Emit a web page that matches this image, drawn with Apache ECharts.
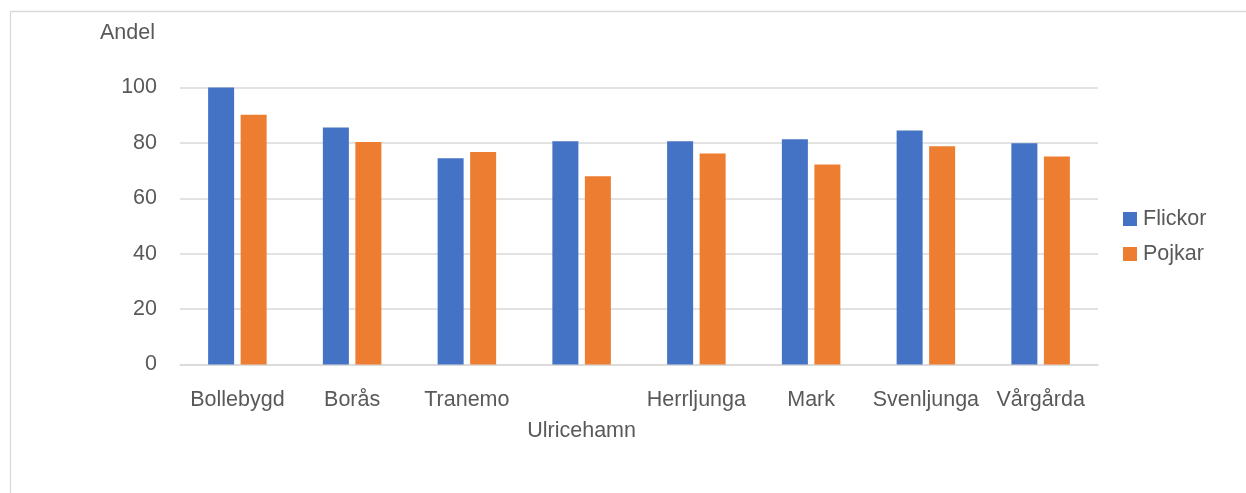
<!DOCTYPE html>
<html>
<head>
<meta charset="utf-8">
<script src="https://cdn.jsdelivr.net/npm/echarts@6/dist/echarts.min.js"></script>
<style>html,body{margin:0;padding:0;background:#fff;}#c{width:1246px;height:493px;}</style>
</head>
<body>
<div id="c"></div>
<script>
const categories = ['Bollebygd', 'Borås', 'Tranemo', 'Ulricehamn', 'Herrljunga', 'Mark', 'Svenljunga', 'Vårgårda'];
const flickor = [100, 85.6, 74.5, 80.6, 80.6, 81.3, 84.5, 79.9];
const pojkar = [90.2, 80.3, 76.7, 68.0, 76.2, 72.2, 78.8, 75.1];
const yTicks = { min: 0, max: 100, interval: 20 };
const seriesNames = ['Flickor', 'Pojkar'];
const yAxisTitle = 'Andel';

const textColor = '#595959';
const font = 'Liberation Sans, Arial, sans-serif';
const chart = echarts.init(document.getElementById('c'), null, { renderer: 'canvas' });
chart.setOption({
  animation: false,
  backgroundColor: '#ffffff',
  graphic: [{
    type: 'rect', shape: { x: 10.5, y: 11.5, width: 1260, height: 520 },
    style: { fill: 'none', stroke: '#d9d9d9', lineWidth: 1.3 }, silent: true, z: -1
  }],
  title: {
    text: yAxisTitle, left: 100, top: 22, padding: 0,
    textStyle: { fontFamily: font, fontSize: 21.5, fontWeight: 'normal', color: textColor }
  },
  legend: {
    orient: 'vertical', left: 1123, top: 208, padding: 0,
    itemWidth: 14, itemHeight: 14, itemGap: 13,
    icon: 'rect',
    textStyle: { fontFamily: font, fontSize: 21.5, color: textColor, lineHeight: 21, padding: [0, 0, 0, 1] },
    data: seriesNames
  },
  grid: { left: 180, right: 148, top: 87.5, bottom: 128.5, containLabel: false },
  xAxis: {
    type: 'category', data: categories,
    axisLine: { show: true, lineStyle: { color: '#d9d9d9', width: 1.5 } },
    axisTick: { show: false },
    axisLabel: {
      interval: 0, margin: 20, fontFamily: font, fontSize: 21.5, color: textColor, lineHeight: 31,
      formatter: (v, i) => (i === 3 ? '\n' + v : v)
    }
  },
  yAxis: {
    type: 'value', min: yTicks.min, max: yTicks.max, interval: yTicks.interval,
    axisLine: { show: false }, axisTick: { show: false },
    axisLabel: { margin: 23, fontFamily: font, fontSize: 21.5, color: textColor },
    splitLine: { lineStyle: { color: '#d9d9d9', width: 1.5 } }
  },
  series: [
    { name: seriesNames[0], type: 'bar', data: flickor, barWidth: 26, barGap: '25%',
      itemStyle: { color: '#4472C4' } },
    { name: seriesNames[1], type: 'bar', data: pojkar, barWidth: 26, barGap: '25%',
      itemStyle: { color: '#ED7D31' } }
  ]
});
</script>
</body>
</html>
